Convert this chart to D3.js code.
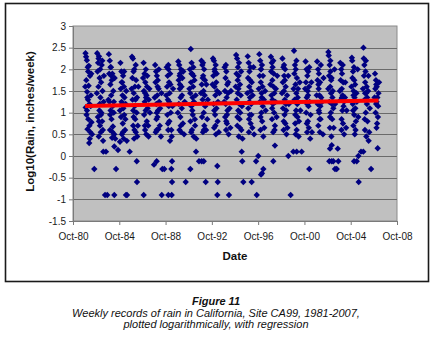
<!DOCTYPE html>
<html>
<head>
<meta charset="utf-8">
<script src="https://cdn.jsdelivr.net/npm/d3@7"></script>
<style>
  body { margin: 0; background: #fff; }
  text { font-family: "Liberation Sans", Arial, sans-serif; }
</style>
</head>
<body>
<div id="chart"></div>
<script>
// weekly log10 rain values, [decimal year, log10(inches/week)]
var rainPoints = [
  [1981.83,2.37],[1981.85,1.12],[1981.88,2.29],[1981.9,1.75],[1981.92,0.95],[1981.95,2.21],[1981.97,1.48],[1982.0,0.62],[1982.02,2.05],[1982.05,1.3],[1982.07,0.85],[1982.1,1.62],[1982.12,2.08],[1982.15,0.3],[1982.18,1.2],[1982.2,0.4],[1982.22,1.85],[1982.25,0.55],[1982.3,1.4],[1982.35,0.78],[1982.59,-0.3],
  [1981.81,1.6],[1981.96,1.05],[1982.06,1.95],[1982.17,0.7],[1982.28,1.15],[1982.33,1.9],[1982.4,0.5],[1981.99,1.35],
  [1982.84,2.37],[1982.87,1.95],[1982.9,0.9],[1982.92,2.15],[1982.95,1.6],[1982.98,0.45],[1983.0,2.3],[1983.03,1.05],[1983.05,1.8],[1983.08,0.7],[1983.1,2.0],[1983.12,1.35],[1983.15,0.55],[1983.18,1.7],[1983.2,1.0],[1983.23,2.1],[1983.27,0.8],[1983.3,1.5],[1983.35,0.35],[1983.4,1.25],
  [1982.81,1.45],[1982.96,2.25],[1983.06,1.2],[1983.17,0.95],[1983.28,2.2],[1983.33,0.6],[1983.42,1.85],[1982.99,0.8],
  [1983.37,0.1],[1983.6,0.1],[1983.52,-0.9],[1983.71,-0.9],
  [1983.85,2.35],[1983.88,1.9],[1983.9,1.25],[1983.93,2.2],[1983.95,0.6],[1983.98,1.65],[1984.0,1.05],[1984.03,2.05],[1984.05,1.4],[1984.08,0.85],[1984.1,1.75],[1984.13,0.42],[1984.15,1.9],[1984.18,1.15],[1984.2,0.68],[1984.23,1.5],[1984.27,1.0],[1984.32,0.5],
  [1983.81,1.3],[1983.96,0.95],[1984.06,1.85],[1984.17,0.55],[1984.28,1.25],[1984.35,1.8],[1984.4,0.4],[1983.99,2.05],
  [1984.32,-0.9],[1984.47,-0.3],[1984.64,0.14],[1984.32,0.22],[1984.81,0.33],
  [1984.85,2.15],[1984.88,1.55],[1984.9,0.9],[1984.93,1.95],[1984.95,1.25],[1984.98,0.5],[1985.0,1.7],[1985.03,1.4],[1985.05,0.75],[1985.08,1.85],[1985.1,1.1],[1985.13,0.4],[1985.15,1.6],[1985.18,0.95],[1985.2,1.35],[1985.25,0.6],[1985.3,1.2],
  [1984.81,1.05],[1984.96,1.7],[1985.06,0.55],[1985.17,1.95],[1985.28,0.85],[1985.35,1.5],[1985.4,0.35],[1984.99,1.2],
  [1985.33,-0.9],[1985.42,-0.9],[1985.65,0.1],
  [1985.85,2.29],[1985.88,1.8],[1985.9,1.3],[1985.93,2.25],[1985.95,0.7],[1985.98,1.95],[1986.0,1.45],[1986.03,0.4],[1986.05,2.0],[1986.08,1.15],[1986.1,1.6],[1986.13,0.85],[1986.15,1.3],[1986.18,0.55],[1986.2,1.75],[1986.25,1.0],[1986.3,0.45],
  [1985.81,1.55],[1985.96,1.05],[1986.06,0.6],[1986.17,2.1],[1986.28,1.35],[1986.35,0.7],[1986.4,1.6],[1985.99,0.9],
  [1986.26,-0.12],[1986.28,-0.6],[1986.86,-0.9],
  [1986.85,2.15],[1986.88,1.5],[1986.9,0.95],[1986.93,1.9],[1986.95,1.25],[1986.98,0.6],[1987.0,1.7],[1987.03,1.05],[1987.05,2.0],[1987.08,0.5],[1987.1,1.4],[1987.13,0.8],[1987.15,1.6],[1987.2,1.1],[1987.25,0.7],[1987.3,1.3],
  [1986.81,1.8],[1986.96,0.7],[1987.06,1.35],[1987.17,1.85],[1987.28,0.45],[1987.35,1.55],[1987.4,1.0],[1986.99,1.45],
  [1987.85,2.1],[1987.88,1.7],[1987.9,0.55],[1987.93,1.95],[1987.95,1.2],[1987.98,0.6],[1988.0,1.85],[1988.03,1.4],[1988.05,0.9],[1988.08,1.75],[1988.1,1.05],[1988.13,0.62],[1988.15,1.55],[1988.2,1.25],[1988.25,0.7],
  [1987.81,1.35],[1987.96,0.85],[1988.06,1.6],[1988.17,2.0],[1988.28,1.1],[1988.35,0.45],[1988.4,1.45],[1987.99,1.0],
  [1987.75,-0.2],[1987.98,-0.12],[1988.42,-0.9],[1988.47,-0.3],[1988.64,-0.3],
  [1988.85,2.05],[1988.88,1.6],[1988.9,0.95],[1988.93,1.85],[1988.95,1.3],[1988.98,0.6],[1989.0,2.0],[1989.03,1.15],[1989.05,1.7],[1989.08,0.8],[1989.1,1.45],[1989.13,0.35],[1989.15,1.9],[1989.2,1.0],[1989.25,0.6],
  [1988.81,1.4],[1988.96,0.75],[1989.06,1.25],[1989.17,1.65],[1989.28,0.45],[1989.35,1.15],[1989.4,1.55],[1988.99,2.1],
  [1988.99,-0.9],[1989.28,-0.9],[1989.31,-0.12],[1989.25,-0.3],[1989.31,-0.6],
  [1989.85,2.18],[1989.88,1.75],[1989.9,1.2],[1989.93,2.1],[1989.95,0.6],[1989.98,1.55],[1990.0,1.9],[1990.03,0.9],[1990.05,1.35],[1990.08,2.0],[1990.1,0.55],[1990.13,1.6],[1990.15,1.1],[1990.2,1.8],[1990.25,0.75],
  [1989.81,1.0],[1989.96,1.85],[1990.06,0.7],[1990.17,1.4],[1990.28,1.95],[1990.35,0.5],[1990.4,1.25],[1989.99,1.65],
  [1990.49,-0.6],
  [1990.85,2.0],[1990.88,1.45],[1990.9,0.8],[1990.93,2.47],[1990.95,1.7],[1990.98,1.15],[1991.0,2.15],[1991.03,0.6],[1991.05,1.9],[1991.08,1.35],[1991.1,0.95],[1991.13,1.6],[1991.15,2.05],[1991.18,0.45],[1991.2,1.25],[1991.25,1.75],[1991.3,0.7],
  [1990.81,1.55],[1990.96,0.55],[1991.06,1.05],[1991.17,1.85],[1991.28,0.85],[1991.35,1.4],[1991.4,0.4],[1990.99,1.9],
  [1990.89,-0.3],[1991.38,0.1],
  [1991.85,2.2],[1991.88,1.65],[1991.9,0.9],[1991.93,2.1],[1991.95,1.3],[1991.98,0.55],[1992.0,1.85],[1992.03,1.5],[1992.05,1.0],[1992.08,2.0],[1992.1,0.7],[1992.13,1.4],[1992.15,1.75],[1992.2,1.2],[1992.25,0.6],
  [1991.81,1.45],[1991.96,1.8],[1992.06,0.6],[1992.17,1.15],[1992.28,1.65],[1992.35,0.85],[1992.4,1.3],[1991.99,2.15],
  [1991.64,-0.12],[1991.87,-0.12],[1992.05,-0.12],[1992.22,-0.6],
  [1992.85,2.25],[1992.88,1.85],[1992.9,1.2],[1992.93,2.2],[1992.95,0.65],[1992.98,1.6],[1993.0,1.95],[1993.03,0.95],[1993.05,1.4],[1993.08,2.1],[1993.1,0.5],[1993.13,1.7],[1993.15,1.1],[1993.2,1.5],[1993.25,0.8],
  [1992.81,1.65],[1992.96,1.05],[1993.06,0.7],[1993.17,1.9],[1993.28,1.25],[1993.35,0.55],[1993.4,1.45],[1992.99,2.0],
  [1993.22,-0.9],[1993.26,-0.6],[1993.22,-0.23],[1994.23,-0.9],
  [1993.85,2.05],[1993.88,1.5],[1993.9,0.9],[1993.93,1.8],[1993.95,1.2],[1993.98,0.6],[1994.0,1.95],[1994.03,1.35],[1994.05,0.75],[1994.08,1.65],[1994.1,1.05],[1994.15,1.45],[1994.2,0.5],
  [1993.81,1.25],[1993.96,2.1],[1994.06,0.95],[1994.17,1.7],[1994.28,1.1],[1994.35,0.65],[1994.4,1.5],[1993.99,0.8],
  [1994.85,2.33],[1994.88,1.9],[1994.9,1.3],[1994.93,2.25],[1994.95,0.7],[1994.98,1.75],[1995.0,2.05],[1995.03,1.05],[1995.05,1.55],[1995.08,0.45],[1995.1,2.15],[1995.13,1.2],[1995.15,0.85],[1995.18,1.65],[1995.2,1.0],[1995.25,1.4],[1995.3,0.6],
  [1994.81,1.6],[1994.96,0.9],[1995.06,1.85],[1995.17,0.65],[1995.28,1.95],[1995.35,1.15],[1995.4,0.4],[1994.99,1.45],
  [1995.33,0.1],[1995.38,-0.12],[1995.47,-0.6],
  [1995.85,2.3],[1995.88,1.8],[1995.9,1.1],[1995.93,2.15],[1995.95,0.55],[1995.98,1.6],[1996.0,1.95],[1996.03,0.95],[1996.05,1.35],[1996.08,2.05],[1996.1,0.75],[1996.13,1.5],[1996.15,1.2],[1996.2,1.7],[1996.25,0.65],
  [1995.81,1.45],[1995.96,0.85],[1996.06,1.75],[1996.17,0.95],[1996.28,1.4],[1996.35,2.05],[1996.4,0.5],[1995.99,1.25],
  [1996.19,-0.6],[1996.57,-0.12],[1996.76,0.0],[1996.63,-0.9],
  [1996.85,2.35],[1996.88,1.85],[1996.9,1.25],[1996.93,2.2],[1996.95,0.6],[1996.98,1.7],[1997.0,2.0],[1997.03,1.0],[1997.05,1.45],[1997.08,2.1],[1997.1,0.8],[1997.13,1.6],[1997.15,1.15],[1997.2,0.45],[1997.25,1.3],
  [1996.81,1.55],[1996.96,0.9],[1997.06,1.35],[1997.17,1.85],[1997.28,0.65],[1997.35,1.5],[1997.4,1.05],[1996.99,2.0],
  [1997.2,-0.3],[1997.08,-0.4],[1997.0,-0.43],
  [1997.85,2.29],[1997.88,1.95],[1997.9,1.4],[1997.93,2.15],[1997.95,0.85],[1997.98,1.75],[1998.0,2.05],[1998.03,1.2],[1998.05,0.55],[1998.08,1.6],[1998.1,1.9],[1998.13,1.0],[1998.15,1.45],[1998.2,0.7],[1998.25,1.25],
  [1997.81,1.65],[1997.96,1.1],[1998.06,2.2],[1998.17,0.6],[1998.28,1.55],[1998.35,0.9],[1998.4,1.85],[1997.99,1.3],
  [1998.06,-0.12],[1998.2,0.24],
  [1998.85,2.25],[1998.88,1.7],[1998.9,1.1],[1998.93,2.05],[1998.95,0.6],[1998.98,1.5],[1999.0,1.85],[1999.03,0.95],[1999.05,1.3],[1999.08,2.0],[1999.1,0.75],[1999.13,1.6],[1999.15,1.2],[1999.2,0.5],[1999.25,1.4],
  [1998.81,1.45],[1998.96,0.8],[1999.06,1.75],[1999.17,1.05],[1999.28,0.65],[1999.35,1.85],[1999.4,1.2],[1998.99,2.1],
  [1999.36,0.0],[1999.56,-0.9],
  [1999.85,2.43],[1999.88,1.9],[1999.9,1.3],[1999.93,2.1],[1999.95,0.75],[1999.98,1.65],[2000.0,2.0],[2000.03,1.05],[2000.05,1.45],[2000.08,0.6],[2000.1,1.8],[2000.13,1.2],[2000.15,0.9],[2000.2,1.55],[2000.25,0.45],
  [1999.81,1.55],[1999.96,0.95],[2000.06,2.2],[2000.17,1.35],[2000.28,0.8],[2000.35,1.7],[2000.4,1.05],[1999.99,0.5],
  [1999.79,0.1],[2000.08,0.1],[2000.51,0.1],[2001.17,-0.3],
  [2000.85,2.18],[2000.88,1.7],[2000.9,1.0],[2000.93,2.0],[2000.95,1.35],[2000.98,0.55],[2001.0,1.85],[2001.03,1.5],[2001.05,0.8],[2001.08,1.95],[2001.1,1.15],[2001.13,0.65],[2001.15,1.6],[2001.2,1.25],[2001.25,0.4],
  [2000.81,1.55],[2000.96,0.75],[2001.06,1.4],[2001.17,2.05],[2001.28,0.95],[2001.35,1.7],[2001.4,0.55],[2000.99,1.2],
  [2001.85,2.18],[2001.88,1.75],[2001.9,1.2],[2001.93,2.0],[2001.95,0.7],[2001.98,1.55],[2002.0,1.9],[2002.03,1.0],[2002.05,1.4],[2002.08,0.55],[2002.1,1.7],[2002.13,1.15],[2002.15,0.85],[2002.2,1.35],
  [2001.81,1.4],[2001.96,1.65],[2002.06,0.85],[2002.17,2.1],[2002.28,1.25],[2002.35,0.5],[2002.4,1.8],[2001.99,1.05],
  [2002.82,2.4],[2002.85,2.32],[2002.88,1.85],[2002.9,1.25],[2002.93,2.1],[2002.95,0.65],[2002.98,1.6],[2003.0,1.95],[2003.03,1.0],[2003.05,1.45],[2003.08,0.45],[2003.1,1.8],[2003.13,1.2],[2003.15,0.85],[2003.2,1.5],[2003.25,1.1],
  [2002.81,1.55],[2002.96,0.9],[2003.06,1.75],[2003.17,1.35],[2003.28,0.65],[2003.35,2.0],[2003.4,1.2],[2002.99,2.2],
  [2002.9,-0.12],[2003.11,-0.12],[2003.25,-0.12],[2003.68,-0.12],[2003.39,-0.3],[2003.54,-0.3],[2002.96,0.17],[2003.11,0.25],[2003.63,0.17],
  [2003.85,2.15],[2003.88,1.75],[2003.9,1.3],[2003.93,2.0],[2003.95,0.6],[2003.98,1.55],[2004.0,1.9],[2004.03,1.05],[2004.05,1.4],[2004.08,0.75],[2004.1,1.7],[2004.13,1.15],[2004.18,0.5],[2004.25,1.35],
  [2003.81,1.5],[2003.96,0.85],[2004.06,2.1],[2004.17,1.25],[2004.28,1.7],[2004.35,0.65],[2004.4,1.05],[2003.99,1.35],
  [2004.85,2.27],[2004.88,2.2],[2004.9,1.8],[2004.93,1.2],[2004.95,1.95],[2004.98,0.7],[2005.0,1.5],[2005.03,2.05],[2005.05,0.95],[2005.08,1.35],[2005.1,0.5],[2005.13,1.65],[2005.15,1.1],[2005.2,0.8],[2005.25,1.45],
  [2004.81,1.6],[2004.96,1.05],[2005.06,1.75],[2005.17,0.6],[2005.28,1.25],[2005.35,2.0],[2005.4,0.9],[2004.99,1.4],
  [2005.04,-0.12],[2005.27,-0.12],[2005.44,-0.6],[2005.41,0.0],[2005.64,0.1],[2005.84,0.1],
  [2005.85,2.5],[2005.88,2.25],[2005.9,1.85],[2005.93,2.1],[2005.95,1.3],[2005.98,0.6],[2006.0,1.7],[2006.03,1.95],[2006.05,1.0],[2006.08,1.45],[2006.1,0.45],[2006.13,1.6],[2006.15,1.2],[2006.2,0.8],[2006.25,1.5],[2006.3,0.35],
  [2005.81,1.55],[2005.96,0.85],[2006.06,2.2],[2006.17,1.35],[2006.28,1.85],[2006.35,0.55],[2006.4,1.1],[2005.99,1.45],
  [2006.51,-0.3],
  [2006.85,1.9],[2006.88,1.55],[2006.9,1.0],[2006.93,1.75],[2006.95,1.2],[2006.98,0.65],[2007.0,1.6],[2007.05,1.35],[2007.1,0.9],[2007.15,1.45],[2007.08,0.18],
  [2006.81,1.35],[2006.96,1.65],[2007.03,0.75],[2007.12,1.15],[2007.2,1.7],[2006.99,1.25]
];

// regression line end points
var trendYears = [1981.8, 2007.15];
var trendValues = [1.155, 1.28];

var yTicks = [-1.5, -1, -0.5, 0, 0.5, 1, 1.5, 2, 2.5, 3];
var xTickYears = [1980.75, 1984.75, 1988.75, 1992.75, 1996.75, 2000.75, 2004.75, 2008.75];
var xTickLabels = ["Oct-80", "Oct-84", "Oct-88", "Oct-92", "Oct-96", "Oct-00", "Oct-04", "Oct-08"];

var captionTitle = "Figure 11";
var captionLines = ["Weekly records of rain in California, Site CA99, 1981-2007,",
                    "plotted logarithmically, with regression"];

var width = 434, height = 338;
var plot = {left: 73, top: 26, right: 397, bottom: 221};

var svg = d3.select("#chart").append("svg")
  .attr("width", width)
  .attr("height", height);

svg.append("rect").attr("width", width).attr("height", height).attr("fill", "#fff");

// chart area border
svg.append("rect")
  .attr("x", 5.5).attr("y", 3.5)
  .attr("width", 423).attr("height", 278)
  .attr("fill", "none")
  .attr("stroke", "#1a1a1a")
  .attr("stroke-width", 1.6);

var x = d3.scaleLinear().domain([1980.75, 2008.75]).range([plot.left, plot.right]);
var y = d3.scaleLinear().domain([-1.5, 3]).range([plot.bottom, plot.top]);

// plot area
svg.append("rect")
  .attr("x", plot.left).attr("y", plot.top)
  .attr("width", plot.right - plot.left).attr("height", plot.bottom - plot.top)
  .attr("fill", "#c0c0c0")
  .attr("stroke", "#8a8a8a");

// gridlines
svg.append("g")
  .selectAll("line")
  .data(yTicks.filter(function(d) { return d > -1.5 && d < 3; }))
  .enter().append("line")
    .attr("x1", plot.left).attr("x2", plot.right)
    .attr("y1", function(d) { return Math.round(y(d)) + 0.5; })
    .attr("y2", function(d) { return Math.round(y(d)) + 0.5; })
    .attr("stroke", "#6a6a6a")
    .attr("stroke-width", 1);

// y axis
var yAxis = svg.append("g")
  .attr("transform", "translate(" + plot.left + ",0)")
  .call(d3.axisLeft(y).tickValues(yTicks).tickSize(4).tickPadding(3)
    .tickFormat(function(d) { return d; }));
yAxis.select(".domain").attr("stroke", "#7a7a7a");
yAxis.selectAll(".tick line").attr("stroke", "#7a7a7a");
yAxis.selectAll("text")
  .attr("font-family", "Liberation Sans, Arial, sans-serif")
  .attr("font-size", 10)
  .attr("fill", "#1a1a1a");

// x axis
var xAxis = svg.append("g")
  .attr("transform", "translate(0," + plot.bottom + ")")
  .call(d3.axisBottom(x).tickValues(xTickYears).tickSize(4).tickPadding(8)
    .tickFormat(function(d, i) { return xTickLabels[i]; }));
xAxis.select(".domain").attr("stroke", "#7a7a7a");
xAxis.selectAll(".tick line").attr("stroke", "#7a7a7a");
xAxis.selectAll("text")
  .attr("font-family", "Liberation Sans, Arial, sans-serif")
  .attr("font-size", 10)
  .attr("fill", "#1a1a1a");

// points
var diamond = function(r) { return "M0," + (-r) + "L" + r + ",0L0," + r + "L" + (-r) + ",0Z"; };
svg.append("g")
  .selectAll("path")
  .data(rainPoints)
  .enter().append("path")
    .attr("d", diamond(3.2))
    .attr("transform", function(d) { return "translate(" + x(d[0]) + "," + y(d[1]) + ")"; })
    .attr("fill", "#000080");

// regression line
var trend = trendYears.map(function(t, i) { return [t, trendValues[i]]; });
svg.append("path")
  .datum(trend)
  .attr("d", d3.line().x(function(d) { return x(d[0]); }).y(function(d) { return y(d[1]); }))
  .attr("stroke", "#ff0000")
  .attr("stroke-width", 4)
  .attr("fill", "none");

// axis titles
svg.append("text")
  .attr("x", (plot.left + plot.right) / 2)
  .attr("y", 260)
  .attr("text-anchor", "middle")
  .attr("font-size", 11.5)
  .attr("font-weight", "bold")
  .attr("fill", "#111")
  .text("Date");

svg.append("text")
  .attr("transform", "translate(34," + 121.5 + ") rotate(-90)")
  .attr("text-anchor", "middle")
  .attr("font-size", 11.5)
  .attr("font-weight", "bold")
  .attr("fill", "#111")
  .text("Log10(Rain, inches/week)");

// caption
svg.append("text")
  .attr("x", 216).attr("y", 305)
  .attr("text-anchor", "middle")
  .attr("font-size", 11)
  .attr("font-weight", "bold")
  .attr("font-style", "italic")
  .attr("fill", "#111")
  .text(captionTitle);

svg.append("g").selectAll("text")
  .data(captionLines)
  .enter().append("text")
    .attr("x", 216)
    .attr("y", function(d, i) { return 316.5 + i * 11.5; })
    .attr("text-anchor", "middle")
    .attr("font-size", 11)
    .attr("font-style", "italic")
    .attr("fill", "#111")
    .text(function(d) { return d; });
</script>
</body>
</html>
